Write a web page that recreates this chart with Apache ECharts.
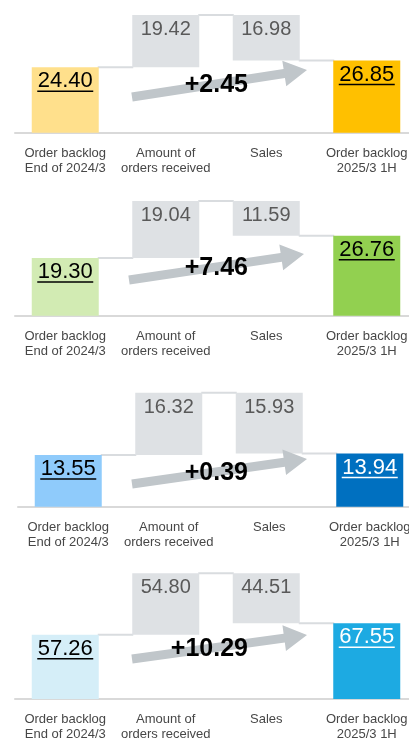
<!DOCTYPE html>
<html>
<head>
<meta charset="utf-8">
<script src="https://cdn.jsdelivr.net/npm/echarts@6/dist/echarts.min.js"></script>
<style>
  html, body { margin: 0; padding: 0; background: #fff; }
  #main { width: 409px; height: 739px; }
</style>
</head>
<body>
<div id="main"></div>
<script>
// chart values
const categories = ['Order backlog\nEnd of 2024/3', 'Amount of\norders received', 'Sales', 'Order backlog\n2025/3 1H'];
const backlogStart = [24.40, 19.30, 13.55, 57.26];
const ordersReceived = [19.42, 19.04, 16.32, 54.80];
const sales = [16.98, 11.59, 15.93, 44.51];
const backlogEnd = [26.85, 26.76, 13.94, 67.55];

// look of each panel
const lightColors = ['#FFE08C', '#D2EBB3', '#8FCBFB', '#D5EEF8'];
const darkColors = ['#FFC000', '#92D050', '#0070C0', '#1DAAE2'];
const endLabelWhite = [false, false, true, true];
const panels = [
  { top: 15, height: 117.7, left: 15, ax: [132, 307], ay: [97, 70] },
  { top: 201, height: 114.7, left: 15, ax: [129, 304], ay: [280, 254] },
  { top: 392.7, height: 114, left: 18, ax: [132, 307], ay: [484, 459] },
  { top: 573.3, height: 125.7, left: 15, ax: [132, 307], ay: [659, 635] }
];

const FONT = '"Liberation Sans", Arial, sans-serif';
const GREY_BAR = '#DEE1E4';
const LINE_GREY = '#D9DCDF';
const ARROW = '#C0C6CA';

const chart = echarts.init(document.getElementById('main'), null, { renderer: 'canvas' });

let grid = [], xAxis = [], yAxis = [], series = [], graphic = [];

// arrow polygon from start to tip
function arrowPoints(x0, y0, x1, y1) {
  const dx = x1 - x0, dy = y1 - y0;
  const len = Math.sqrt(dx * dx + dy * dy);
  const ux = dx / len, uy = dy / len;
  const nx = -uy, ny = ux;
  const w = 4.5, h = 13, L = 23;
  const bx = x1 - ux * L, by = y1 - uy * L;
  return [
    [x0 + nx * w, y0 + ny * w],
    [bx + nx * w, by + ny * w],
    [bx + nx * h, by + ny * h],
    [x1, y1],
    [bx - nx * h, by - ny * h],
    [bx - nx * w, by - ny * w],
    [x0 - nx * w, y0 - ny * w]
  ];
}

panels.forEach(function (p, i) {
  const top = backlogStart[i] + ordersReceived[i];
  const salesBase = top - sales[i];

  grid.push({
    left: p.left, top: p.top, height: p.height,
    right: 409 - p.left - 402,
    outerBoundsMode: 'none'
  });
  xAxis.push({
    type: 'category', gridIndex: i, data: categories,
    axisTick: { show: false },
    axisLine: { lineStyle: { color: '#D9D9D9', width: 2 } },
    axisLabel: {
      interval: 0, color: '#474747', fontSize: 13, lineHeight: 14.5,
      margin: 13.5, fontFamily: FONT, hideOverlap: false
    }
  });
  yAxis.push({
    type: 'value', gridIndex: i, min: 0, max: top, show: false,
    splitLine: { show: false }
  });

  // invisible base of the waterfall
  series.push({
    type: 'bar', xAxisIndex: i, yAxisIndex: i, stack: 's' + i,
    barWidth: 67, silent: true,
    itemStyle: { color: 'transparent' },
    data: [0, backlogStart[i], salesBase, 0]
  });

  // visible bars
  series.push({
    type: 'bar', xAxisIndex: i, yAxisIndex: i, stack: 's' + i,
    barWidth: 67, z: 3,
    data: [
      { value: backlogStart[i], itemStyle: { color: lightColors[i] } },
      { value: ordersReceived[i], itemStyle: { color: GREY_BAR } },
      { value: sales[i], itemStyle: { color: GREY_BAR } },
      { value: backlogEnd[i], itemStyle: { color: darkColors[i] } }
    ],
    label: {
      show: true, position: 'insideTop', distance: 5,
      fontFamily: FONT,
      formatter: function (q) {
        const txt = q.value.toFixed(2);
        if (q.dataIndex === 1 || q.dataIndex === 2) return '{g|' + txt + '}';
        if (q.dataIndex === 3 && endLabelWhite[i]) return '{vw|' + txt + '}\n{uw| }';
        return '{v|' + txt + '}\n{u| }';
      },
      rich: {
        g: { fontSize: 20, lineHeight: 20, color: '#595959', fontFamily: FONT, padding: [-1, 0, 0, 0] },
        v: { fontSize: 22, lineHeight: 18, color: '#000', fontFamily: FONT },
        vw: { fontSize: 22, lineHeight: 18, color: '#fff', fontFamily: FONT },
        u: { width: 56, height: 1.5, lineHeight: 2, backgroundColor: '#000', fontSize: 1 },
        uw: { width: 56, height: 1.5, lineHeight: 2, backgroundColor: '#fff', fontSize: 1 }
      }
    }
  });

  // thin connectors between bars
  series.push({
    type: 'custom', xAxisIndex: i, yAxisIndex: i, z: 1, silent: true,
    data: [[0, backlogStart[i]], [1, top], [2, salesBase]],
    renderItem: function (params, api) {
      const x = api.value(0), v = api.value(1);
      const a = api.coord([x, v]);
      const b = api.coord([x + 1, v]);
      const half = api.size([1, 0])[0] / 3;
      return {
        type: 'line',
        shape: { x1: a[0] + half - 1, y1: a[1], x2: b[0] - half + 1, y2: b[1] },
        style: { stroke: LINE_GREY, lineWidth: 2 }
      };
    }
  });

  // arrow with the change in backlog
  const diff = backlogEnd[i] - backlogStart[i];
  const midY = p.ay[0] + (p.ay[1] - p.ay[0]) * (215 - p.ax[0]) / (p.ax[1] - p.ax[0]);
  graphic.push({
    type: 'polygon', z: 10,
    shape: { points: arrowPoints(p.ax[0], p.ay[0], p.ax[1], p.ay[1]) },
    style: { fill: ARROW }
  });
  graphic.push({
    type: 'text', z: 11, x: 248, y: midY + 1,
    style: {
      text: (diff >= 0 ? '+' : '') + diff.toFixed(2),
      fill: '#000', font: 'bold 25px ' + FONT,
      align: 'right', verticalAlign: 'middle'
    }
  });
});

chart.setOption({
  animation: false,
  grid: grid,
  xAxis: xAxis,
  yAxis: yAxis,
  series: series,
  graphic: graphic
});
</script>
</body>
</html>
